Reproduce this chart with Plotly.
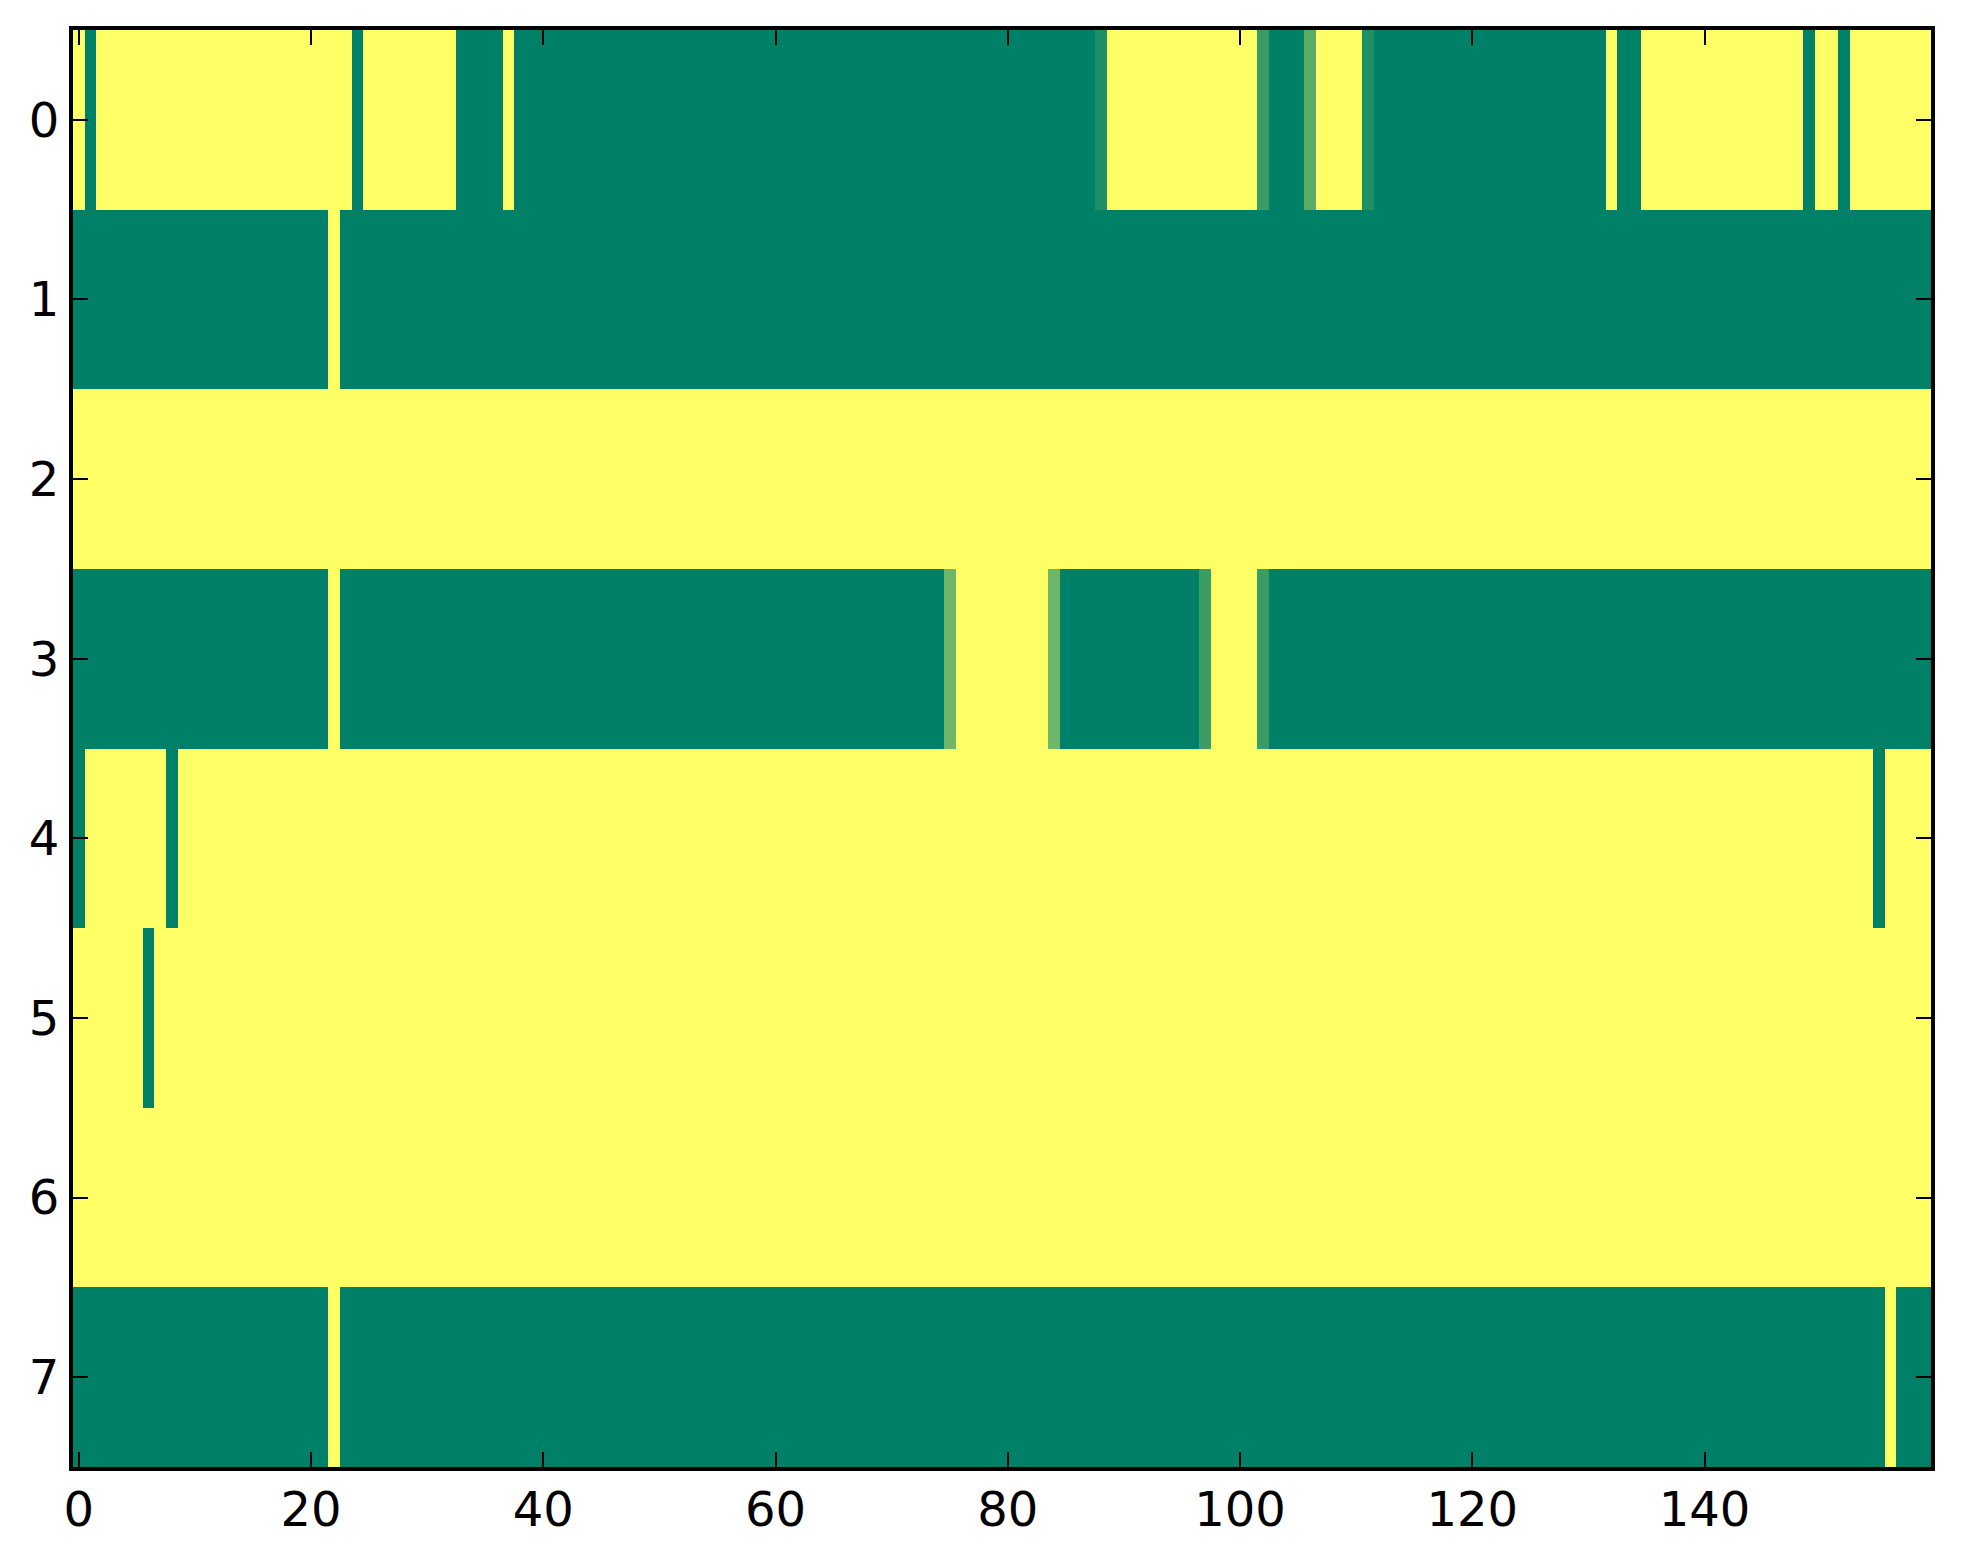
import plotly.graph_objects as go

# each row as (value, run length) pairs, 160 columns per row
row_0 = [(1, 1), (0, 1), (1, 22), (0, 1), (1, 8), (0, 4), (1, 1), (0, 50), (0.12, 1),
         (1, 13), (0.23, 1), (0, 3), (0.35, 1), (1, 4), (0.12, 1), (0, 20), (1, 1),
         (0, 2), (1, 14), (0, 1), (1, 2), (0, 1), (1, 7)]
row_1 = [(0, 22), (1, 1), (0, 137)]
row_2 = [(1, 160)]
row_3 = [(0, 22), (1, 1), (0, 52), (0.43, 1), (1, 8), (0.43, 1), (0, 12), (0.23, 1),
         (1, 4), (0.23, 1), (0, 57)]
row_4 = [(0, 1), (1, 7), (0, 1), (1, 146), (0, 1), (1, 4)]
row_5 = [(1, 6), (0, 1), (1, 153)]
row_6 = [(1, 160)]
row_7 = [(0, 22), (1, 1), (0, 133), (1, 1), (0, 3)]

rows = [row_0, row_1, row_2, row_3, row_4, row_5, row_6, row_7]
x_ticks = [0, 20, 40, 60, 80, 100, 120, 140]
y_ticks = [0, 1, 2, 3, 4, 5, 6, 7]


def expand(runs):
    out = []
    for val, n in runs:
        out += [val] * n
    return out


z = [expand(r) for r in rows]

# matplotlib "summer" colormap
summer = [[0, 'rgb(0,128,102)'], [1, 'rgb(255,255,102)']]

fig = go.Figure()

fig.add_trace(go.Heatmap(
    z=z,
    colorscale=summer,
    zmin=0,
    zmax=1,
    showscale=False,
    hoverinfo='skip',
))

axis_style = dict(
    showline=True,
    linecolor='black',
    linewidth=4,
    mirror='ticks',
    ticks='inside',
    ticklen=15,
    tickwidth=1.5,
    tickcolor='black',
    showgrid=False,
    zeroline=False,
    tickfont=dict(family='DejaVu Sans', size=48, color='black'),
)

fig.update_xaxes(range=[-0.5, 159.5], tickvals=x_ticks, ticklabelstandoff=-3, **axis_style)
fig.update_yaxes(range=[7.5, -0.5], tickvals=y_ticks, ticklabelstandoff=0, **axis_style)

# page body has an 8px margin, so margins are trimmed to match
fig.update_layout(
    width=1963,
    height=1564,
    margin=dict(l=65, r=40, t=22, b=105),
    plot_bgcolor='white',
    paper_bgcolor='white',
)

fig.write_html("out.html")
